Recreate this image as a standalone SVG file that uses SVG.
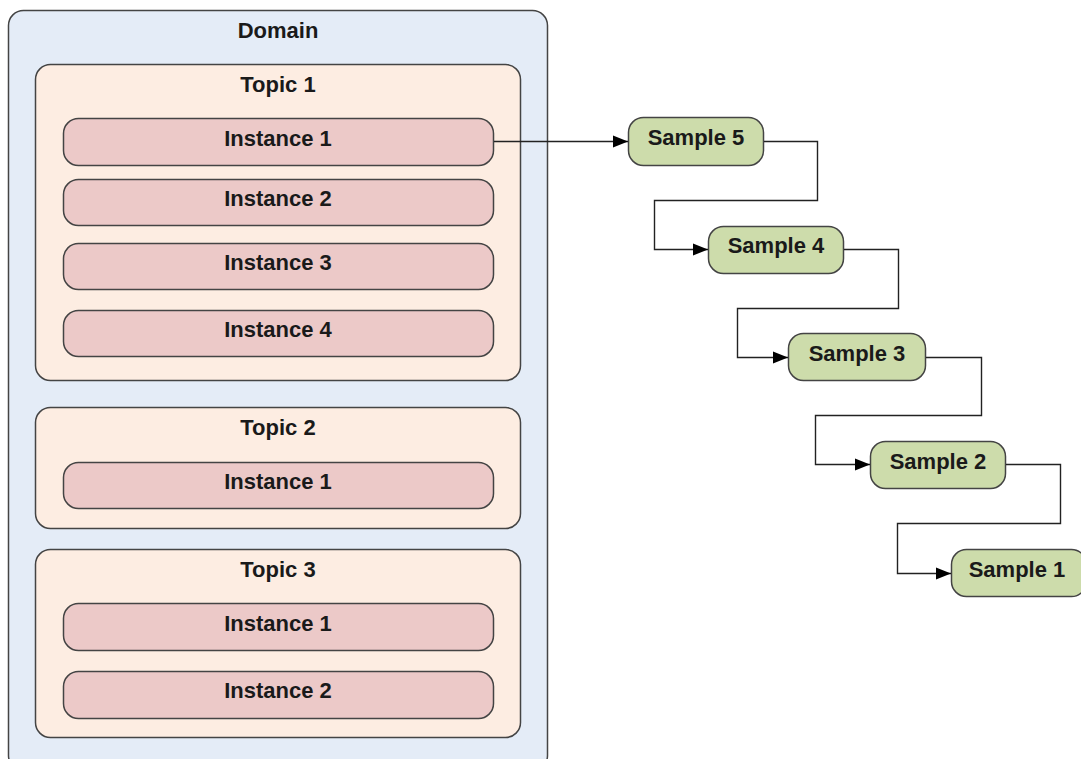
<svg xmlns="http://www.w3.org/2000/svg" width="1081" height="759" viewBox="0 0 1081 759">
<style>
text{font-family:"Liberation Sans",Arial,sans-serif;font-weight:bold;font-size:22px;fill:#1a1a1a;text-anchor:middle}
.dom{fill:#e4ecf7;stroke:#444;stroke-width:1.5}
.top{fill:#fdede2;stroke:#444;stroke-width:1.5}
.ins{fill:#ecc9c8;stroke:#444;stroke-width:1.5}
.smp{fill:#cddcab;stroke:#444;stroke-width:1.5}
.con{fill:none;stroke:#222;stroke-width:1.4}
</style>
<defs>
<marker id="arr" viewBox="0 0 10 10" refX="10" refY="5" markerWidth="15" markerHeight="15" markerUnits="userSpaceOnUse" orient="auto">
<path d="M0,1 L10,5 L0,9 z" fill="#000"/>
</marker>
</defs>
<rect width="1081" height="759" fill="#fff"/>
<g id="domain"><rect class="dom" x="8.5" y="10.5" width="539" height="760" rx="15"/><text x="278" y="38">Domain</text></g>
<g id="topic1"><rect class="top" x="35.5" y="64.5" width="485" height="316" rx="15"/><text x="278" y="92">Topic 1</text></g>
<g id="t1i1"><rect class="ins" x="63.5" y="118.5" width="430" height="47" rx="15"/><text x="278" y="146">Instance 1</text></g>
<g id="t1i2"><rect class="ins" x="63.5" y="179.5" width="430" height="46" rx="15"/><text x="278" y="206">Instance 2</text></g>
<g id="t1i3"><rect class="ins" x="63.5" y="243.5" width="430" height="46" rx="15"/><text x="278" y="270">Instance 3</text></g>
<g id="t1i4"><rect class="ins" x="63.5" y="310.5" width="430" height="46" rx="15"/><text x="278" y="337">Instance 4</text></g>
<g id="topic2"><rect class="top" x="35.5" y="407.5" width="485" height="121" rx="15"/><text x="278" y="435">Topic 2</text></g>
<g id="t2i1"><rect class="ins" x="63.5" y="462.5" width="430" height="46" rx="15"/><text x="278" y="489">Instance 1</text></g>
<g id="topic3"><rect class="top" x="35.5" y="549.5" width="485" height="188" rx="15"/><text x="278" y="577">Topic 3</text></g>
<g id="t3i1"><rect class="ins" x="63.5" y="603.5" width="430" height="47" rx="15"/><text x="278" y="631">Instance 1</text></g>
<g id="t3i2"><rect class="ins" x="63.5" y="671.5" width="430" height="47" rx="15"/><text x="278" y="698">Instance 2</text></g>
<g id="sample5"><rect class="smp" x="628.5" y="117.5" width="135" height="48" rx="15"/><text x="696" y="145">Sample 5</text></g>
<g id="sample4"><rect class="smp" x="708.5" y="226.5" width="135" height="47" rx="15"/><text x="776" y="253">Sample 4</text></g>
<g id="sample3"><rect class="smp" x="788.5" y="333.5" width="137" height="47" rx="15"/><text x="857" y="361">Sample 3</text></g>
<g id="sample2"><rect class="smp" x="870.5" y="441.5" width="135" height="47" rx="15"/><text x="938" y="469">Sample 2</text></g>
<g id="sample1"><rect class="smp" x="951.5" y="549.5" width="135" height="47" rx="15"/><text x="1017" y="577">Sample 1</text></g>
<g id="connectors">
<path class="con" d="M494,141.5 H628" marker-end="url(#arr)"/>
<path class="con" d="M764,141.5 H817.5 V200.5 H654.5 V249.5 H708" marker-end="url(#arr)"/>
<path class="con" d="M844,249.5 H898.5 V308.5 H737.5 V357.5 H788" marker-end="url(#arr)"/>
<path class="con" d="M926,357.5 H981.5 V415.5 H815.5 V464.5 H870" marker-end="url(#arr)"/>
<path class="con" d="M1006,464.5 H1060.5 V523.5 H897.5 V573.5 H951" marker-end="url(#arr)"/>
</g>
</svg>
